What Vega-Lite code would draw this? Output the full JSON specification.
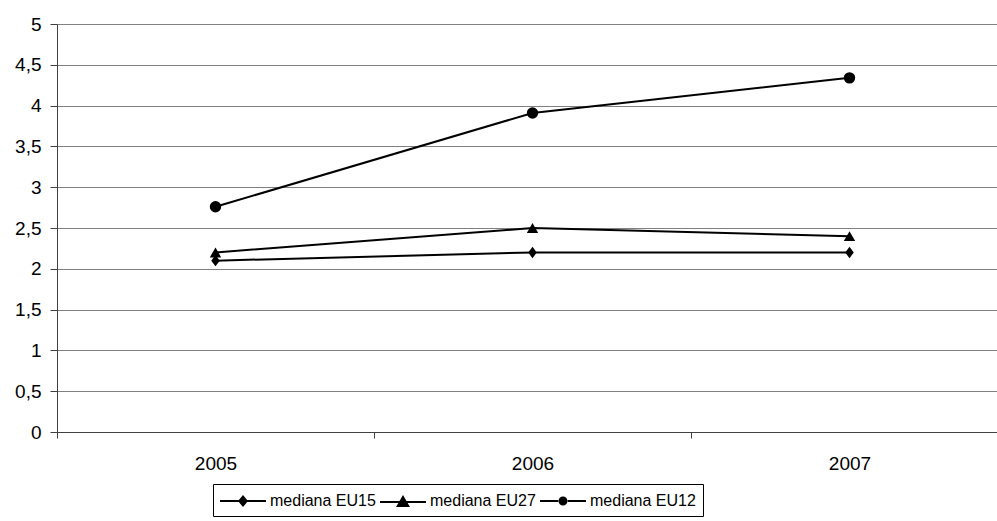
{
  "$schema": "https://vega.github.io/schema/vega-lite/v6.json",
  "autosize": {"type": "none"},
  "padding": {"left": 57, "top": 24, "right": 0, "bottom": 89},
  "width": 940,
  "height": 408,
  "background": "white",
  "config": {
    "view": {"stroke": null},
    "font": "Liberation Sans"
  },
  "data": {
    "values": [
      {"year": "2005", "series": "mediana EU15", "value": 2.1},
      {"year": "2006", "series": "mediana EU15", "value": 2.2},
      {"year": "2007", "series": "mediana EU15", "value": 2.2},
      {"year": "2005", "series": "mediana EU27", "value": 2.2},
      {"year": "2006", "series": "mediana EU27", "value": 2.5},
      {"year": "2007", "series": "mediana EU27", "value": 2.4},
      {"year": "2005", "series": "mediana EU12", "value": 2.76},
      {"year": "2006", "series": "mediana EU12", "value": 3.91},
      {"year": "2007", "series": "mediana EU12", "value": 4.34}
    ]
  },
  "encoding": {
    "x": {
      "field": "year", "type": "ordinal",
      "scale": {"range": [0, 951], "paddingInner": 0, "paddingOuter": 0},
      "axis": {
        "title": null, "labelAngle": 0, "tickBand": "extent",
        "labelFont": "Liberation Sans", "labelFontSize": 19, "labelColor": "black",
        "domainColor": "#404040", "tickColor": "#404040", "tickSize": 6,
        "labelPadding": 16, "grid": false
      }
    },
    "y": {
      "field": "value", "type": "quantitative",
      "scale": {"domain": [0, 5], "nice": false, "zero": true},
      "axis": {
        "title": null, "values": [0, 0.5, 1, 1.5, 2, 2.5, 3, 3.5, 4, 4.5, 5],
        "labelExpr": "replace(format(datum.value, '~g'), '.', ',')",
        "labelFont": "Liberation Sans", "labelFontSize": 19, "labelColor": "black",
        "grid": true, "gridColor": "#808080", "gridWidth": 1,
        "domainColor": "#404040", "tickColor": "#404040", "tickSize": 7,
        "labelPadding": 9
      }
    }
  },
  "layer": [
    {
      "mark": {"type": "line", "color": "black", "strokeWidth": 2},
      "encoding": {"detail": {"field": "series"}}
    },
    {
      "mark": {"type": "point", "filled": true, "color": "black", "opacity": 1},
      "encoding": {
        "shape": {
          "field": "series",
          "scale": {"domain": ["mediana EU15", "mediana EU27", "mediana EU12"], "range": ["M0,-1L0.75,0L0,1L-0.75,0Z", "triangle-up", "circle"]},
          "legend": null
        },
        "size": {"value": 130}
      }
    },
    {
      "mark": {"type": "point", "filled": true, "color": "black", "opacity": 0},
      "encoding": {
        "shape": {
          "field": "series",
          "scale": {
            "domain": ["mediana EU15", "mediana EU27", "mediana EU12"],
            "range": [
              "M-1,-0.09H3.6V0.09H-1ZM1.3,-0.6L1.8,0L1.3,0.6L0.8,0Z",
              "M-1,0.01H3.6V0.19H-1ZM1.3,-0.6L2,0.6L0.6,0.6Z",
              "M-1,-0.09H0.9V0.09H-1ZM1.7,-0.09H3.6V0.09H1.7ZM0.85,0A0.45,0.45,0,1,0,1.75,0A0.45,0.45,0,1,0,0.85,0Z"
            ]
          },
          "legend": {
            "title": null, "orient": "none", "legendX": 156, "legendY": 460,
            "direction": "horizontal", "strokeColor": "black", "padding": 7,
            "symbolSize": 400, "symbolFillColor": "black", "symbolStrokeColor": "black",
            "symbolStrokeWidth": 0, "symbolOpacity": 1,
            "labelFont": "Liberation Sans", "labelFontSize": 16, "labelColor": "black",
            "labelOffset": 30, "columnPadding": 4,
            "encode": {
              "symbols": {"update": {
                "fill": {"value": "black"}, "opacity": {"value": 1}, "fillOpacity": {"value": 1}, "size": {"value": 400}
              }}
            }
          }
        },
        "size": {"value": 10}
      }
    }
  ],
  "resolve": {"scale": {"shape": "independent"}, "legend": {"shape": "independent"}}
}
